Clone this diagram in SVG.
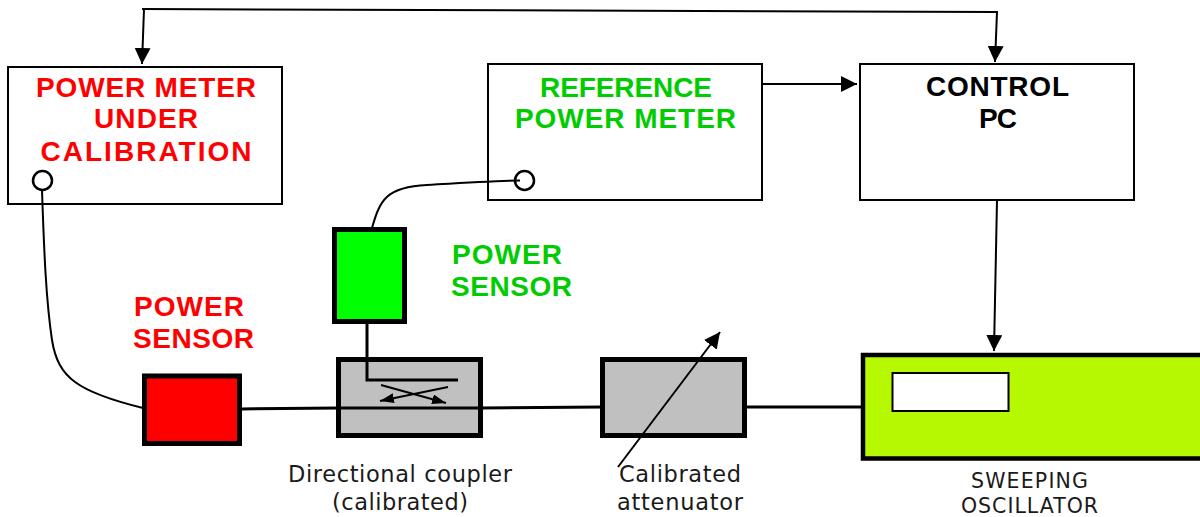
<svg xmlns="http://www.w3.org/2000/svg" width="1200" height="517" viewBox="0 0 1200 517">
<style>
text{font-family:"DejaVu Sans",Verdana,sans-serif;text-anchor:middle}
.h{font-family:"Liberation Sans",Arial,sans-serif;font-weight:700;font-size:28px;fill:#000}
.r{fill:#ff0000}.g{fill:#00cc00}
.l{font-size:22.500px;fill:#1a1a1a}
.s{font-size:20.500px;fill:#1a1a1a}
.box{fill:#fff;stroke:#000;stroke-width:2}
.thick{stroke:#000;stroke-width:5}
.gray{fill:#c0c0c0}
.w{fill:none;stroke:#000;stroke-width:2}
.w3{fill:none;stroke:#000;stroke-width:3}
</style>
<defs>
<marker id="a" markerUnits="userSpaceOnUse" markerWidth="18" markerHeight="16" refX="16" refY="8" orient="auto"><path d="M0 0L16 8L0 16Z" fill="#000"/></marker>
<marker id="b" markerUnits="userSpaceOnUse" markerWidth="14" markerHeight="12" refX="14" refY="5" orient="auto"><path d="M0 0L14 5L0 10Z" fill="#000"/></marker>
</defs>
<g id="power-meter"><rect class="box" x="8" y="67" width="274" height="137"/><text class="h r" x="146" y="97" textLength="220">POWER METER</text><text class="h r" x="146" y="128" textLength="104">UNDER</text><text class="h r" x="146" y="161" textLength="211">CALIBRATION</text></g>
<g id="reference-meter"><rect class="box" x="488" y="64" width="274" height="136"/><text class="h g" x="626" y="97" textLength="172">REFERENCE</text><text class="h g" x="625.500" y="128" textLength="221">POWER METER</text></g>
<g id="control-pc"><rect class="box" x="860" y="64" width="274" height="136"/><text class="h" x="997.500" y="96" textLength="143">CONTROL</text><text class="h" x="998" y="128" textLength="38">PC</text></g>
<g id="port-a"><circle cx="42.500" cy="180.500" r="9.500" fill="#fff" stroke="#000" stroke-width="2.500"/></g>
<g id="port-b"><circle cx="524.500" cy="180.500" r="9.500" fill="#fff" stroke="#000" stroke-width="2.500"/></g>
<g id="connectors">
<path class="w" d="M142 9L997 12L995 62" marker-end="url(#a)"/>
<path class="w" d="M144 9L142 64" marker-end="url(#a)"/>
<path class="w" d="M762 84L857 84" marker-end="url(#a)"/>
<path class="w" d="M997 200L994 351" marker-end="url(#a)"/>
<path class="w" d="M42 190C44 250 46 300 52 340C58 378 78 392 143 408"/>
<path class="w" d="M372 228C380 200 386 187 427 185C460 183 490 181 520 180.500"/>
<path class="w3" d="M241 409L338 408M481 408L602 407M746 407L862 407"/>
</g>
<g id="green-sensor"><rect class="thick" x="334.500" y="229.500" width="70" height="92" fill="#00ff00"/></g>
<g id="red-sensor"><rect class="thick" x="144.500" y="376" width="95" height="67.500" fill="#ff0000"/></g>
<g id="coupler"><rect class="thick gray" x="338.500" y="359.500" width="142" height="76"/>
<path d="M338 408L481 408" class="w3"/>
<path class="w3" d="M367 322V380H458"/>
<path class="w" d="M381 385L446 403" marker-end="url(#b)"/>
<path class="w" d="M448 387L380 401" marker-end="url(#b)"/></g>
<g id="attenuator"><rect class="thick gray" x="602.500" y="359.500" width="142" height="76"/>
<path class="w" d="M618 467L720 332" marker-end="url(#a)"/></g>
<g id="oscillator"><rect x="863" y="355" width="345" height="103.500" fill="#b6f800" stroke="#000" stroke-width="4.500"/><rect x="892.500" y="373" width="116" height="38" fill="#fff" stroke="#000" stroke-width="2"/></g>
<text class="h r" x="189" y="316" textLength="110">POWER</text><text class="h r" x="193.500" y="348" textLength="121">SENSOR</text>
<text class="h g" x="507" y="264" textLength="110">POWER</text><text class="h g" x="511.500" y="296" textLength="121">SENSOR</text>
<text class="l" x="400" y="482" textLength="224">Directional coupler</text><text class="l" x="400" y="510" textLength="136">(calibrated)</text>
<text class="l" x="680" y="482" textLength="122">Calibrated</text><text class="l" x="680" y="510" textLength="126">attenuator</text>
<text class="s" x="1029.500" y="488" textLength="117">SWEEPING</text><text class="s" x="1029.500" y="513" textLength="137">OSCILLATOR</text>
</svg>
